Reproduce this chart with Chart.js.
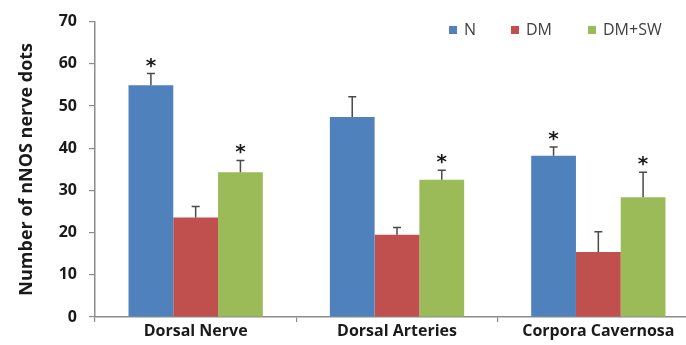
<!DOCTYPE html>
<html>
<head>
<meta charset="utf-8">
<script src="https://cdn.jsdelivr.net/npm/chart.js@4/dist/chart.umd.min.js"></script>
<style>
html,body{margin:0;padding:0;background:#fff;overflow:hidden;width:686px;height:345px;}
#wrap{width:700px;height:345px;position:relative;}
</style>
</head>
<body>
<div id="wrap"><canvas id="c" width="700" height="345"></canvas></div>
<script>
const categories = ["Dorsal Nerve", "Dorsal Arteries", "Corpora Cavernosa"];
const seriesNames = ["N", "DM", "DM+SW"];
const valuesN  = [54.9, 47.4, 38.2];
const valuesDM = [23.6, 19.5, 15.4];
const valuesSW = [34.3, 32.5, 28.4];
const errN  = [2.8, 4.8, 2.1];
const errDM = [2.6, 1.7, 4.8];
const errSW = [2.8, 2.3, 5.9];
const starN  = [true, false, true];
const starDM = [false, false, false];
const starSW = [true, true, true];
const yTicks = [0, 10, 20, 30, 40, 50, 60, 70];
const colors = ["#4f81bd", "#c0504d", "#9bbb59"];

const errs = [errN, errDM, errSW];
const stars = [starN, starDM, starSW];
const FONT = "'Open Sans', sans-serif";

const extras = {
  id: 'extras',
  afterDatasetsDraw(chart) {
    const ctx = chart.ctx;
    const y = chart.scales.y;
    ctx.save();
    chart.data.datasets.forEach((ds, di) => {
      const meta = chart.getDatasetMeta(di);
      meta.data.forEach((bar, i) => {
        const v = ds.data[i];
        const top = y.getPixelForValue(v + errs[di][i]);
        const base = y.getPixelForValue(v);
        ctx.strokeStyle = '#4a4a4a';
        ctx.lineWidth = 1.5;
        ctx.beginPath();
        ctx.moveTo(bar.x, base);
        ctx.lineTo(bar.x, top);
        ctx.moveTo(bar.x - 4, top);
        ctx.lineTo(bar.x + 4, top);
        ctx.stroke();
        if (stars[di][i]) {
          ctx.fillStyle = '#1a1a1a';
          ctx.font = "bold 20px 'DejaVu Sans', sans-serif";
          ctx.textAlign = 'center';
          ctx.textBaseline = 'alphabetic';
          ctx.fillText('*', bar.x, top - 13 + 11);
        }
      });
    });
    // legend
    const lx = [449, 511, 588];
    ctx.font = '16px ' + FONT;
    ctx.textBaseline = 'middle';
    ctx.textAlign = 'left';
    chart.data.datasets.forEach((ds, di) => {
      ctx.fillStyle = ds.backgroundColor;
      ctx.fillRect(lx[di], 26, 8, 8);
      ctx.fillStyle = '#404040';
      ctx.fillText(ds.label, lx[di] + 15, 30);
    });
    ctx.restore();
  }
};

new Chart(document.getElementById('c'), {
  type: 'bar',
  data: {
    labels: categories,
    datasets: [
      {label: seriesNames[0], data: valuesN,  backgroundColor: colors[0]},
      {label: seriesNames[1], data: valuesDM, backgroundColor: colors[1]},
      {label: seriesNames[2], data: valuesSW, backgroundColor: colors[2]}
    ]
  },
  options: {
    responsive: false,
    animation: false,
    events: [],
    categoryPercentage: 0.667,
    barPercentage: 1.0,
    layout: {padding: {top: 15, right: 1, left: 0, bottom: 0}},
    plugins: {legend: {display: false}, tooltip: {enabled: false}},
    scales: {
      x: {
        afterFit(s) { s.height = 28; },
        grid: {offset: true, drawOnChartArea: false, drawTicks: true, tickLength: 5, color: '#8c8c8c', lineWidth: 1.2},
        border: {color: '#8c8c8c', width: 1.5},
        ticks: {color: '#1a1a1a', font: {family: FONT, size: 16, weight: 'bold'}, padding: 0}
      },
      y: {
        min: 0, max: 70,
        afterFit(s) { s.width = 95; },
        afterBuildTicks(s) { s.ticks = yTicks.map(v => ({value: v})); },
        grid: {drawOnChartArea: false, drawTicks: true, tickLength: 6, color: '#8c8c8c', lineWidth: 1.2},
        border: {color: '#8c8c8c', width: 1.5},
        ticks: {color: '#1a1a1a', font: {family: FONT, size: 16, weight: 'bold'}, padding: 12},
        title: {display: true, text: 'Number of nNOS nerve dots', color: '#1a1a1a', font: {family: FONT, size: 18, weight: 'bold'}, padding: {top: 16, bottom: 0}}
      }
    }
  },
  plugins: [extras]
});
</script>
</body>
</html>
